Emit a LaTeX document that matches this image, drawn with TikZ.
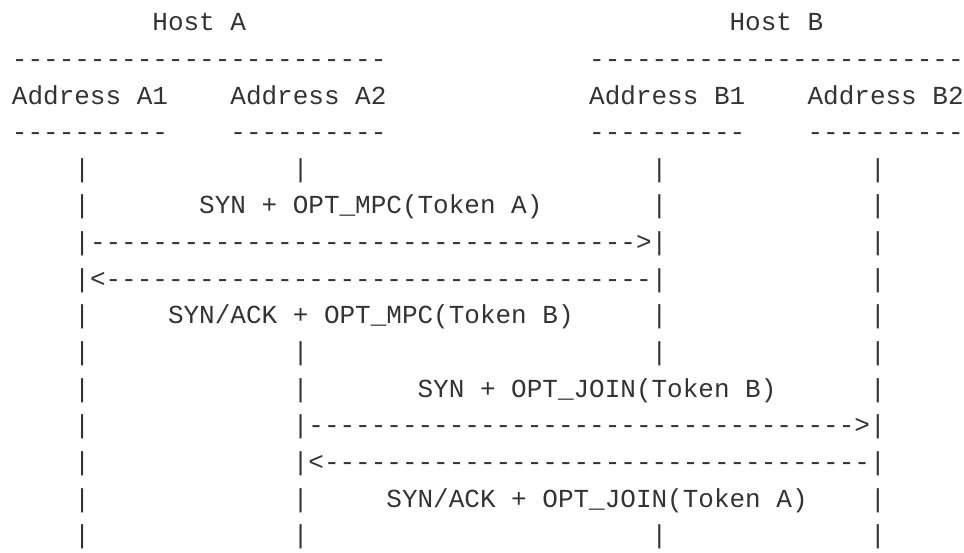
\documentclass[tikz,border=0pt]{standalone}
\usepackage{fontspec}
\newfontfamily\asciimono{Liberation Mono}
\definecolor{ink}{HTML}{333333}
\tikzset{asc/.style={anchor=base west, inner sep=0pt, outer sep=0pt,
  font=\asciimono\fontsize{26}{30}\selectfont, text=ink}}
% place text at character column #2, text row #3
\newcommand\asctext[4]{\node[asc] (#1) at ({12+(#2)*15.6},{30.7+(#3)*36.65}) {#4};}
\begin{document}
\begin{tikzpicture}[x=1pt,y=-1pt]
\useasboundingbox (0,0) rectangle (964,552);
% row 0: hosts
\asctext{hostA}{9}{0}{Host A}
\asctext{hostB}{46}{0}{Host B}
% row 1: host rules
\asctext{ruleA}{0}{1}{------------------------}
\asctext{ruleB}{37}{1}{------------------------}
% row 2: addresses
\asctext{addrA1}{0}{2}{Address A1}
\asctext{addrA2}{14}{2}{Address A2}
\asctext{addrB1}{37}{2}{Address B1}
\asctext{addrB2}{51}{2}{Address B2}
% row 3: address rules
\asctext{ulA1}{0}{3}{----------}
\asctext{ulA2}{14}{3}{----------}
\asctext{ulB1}{37}{3}{----------}
\asctext{ulB2}{51}{3}{----------}
% row 4
\foreach \c/\n in {4/a,18/b,41/c,55/d}{\asctext{p4\n}{\c}{4}{|}}
% row 5
\asctext{p5a}{4}{5}{|}
\asctext{msgOne}{12}{5}{SYN + OPT\_MPC(Token A)}
\asctext{p5c}{41}{5}{|}
\asctext{p5d}{55}{5}{|}
% row 6
\asctext{arrOne}{4}{6}{|----------------------------------->|}
\asctext{p6d}{55}{6}{|}
% row 7
\asctext{arrTwo}{4}{7}{|<-----------------------------------|}
\asctext{p7d}{55}{7}{|}
% row 8
\asctext{p8a}{4}{8}{|}
\asctext{msgTwo}{10}{8}{SYN/ACK + OPT\_MPC(Token B)}
\asctext{p8c}{41}{8}{|}
\asctext{p8d}{55}{8}{|}
% row 9
\foreach \c/\n in {4/a,18/b,41/c,55/d}{\asctext{p9\n}{\c}{9}{|}}
% row 10
\asctext{p10a}{4}{10}{|}
\asctext{p10b}{18}{10}{|}
\asctext{msgThree}{26}{10}{SYN + OPT\_JOIN(Token B)}
\asctext{p10d}{55}{10}{|}
% row 11
\asctext{p11a}{4}{11}{|}
\asctext{arrThree}{18}{11}{|----------------------------------->|}
% row 12
\asctext{p12a}{4}{12}{|}
\asctext{arrFour}{18}{12}{|<-----------------------------------|}
% row 13
\asctext{p13a}{4}{13}{|}
\asctext{p13b}{18}{13}{|}
\asctext{msgFour}{24}{13}{SYN/ACK + OPT\_JOIN(Token A)}
\asctext{p13d}{55}{13}{|}
% row 14
\foreach \c/\n in {4/a,18/b,41/c,55/d}{\asctext{p14\n}{\c}{14}{|}}
\end{tikzpicture}
\end{document}
